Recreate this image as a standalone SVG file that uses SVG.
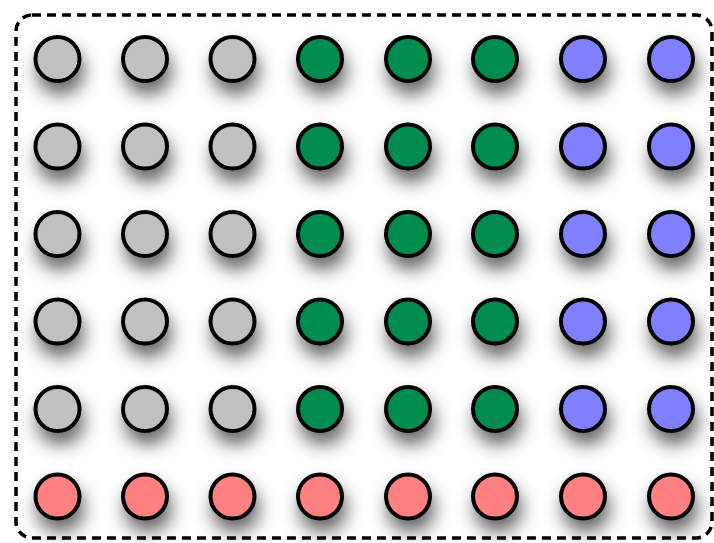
<svg xmlns="http://www.w3.org/2000/svg" width="714" height="543" viewBox="0 0 714 543">
<style>
.n{stroke:#000;stroke-width:4;filter:url(#sh)}
.g{fill:#c0c0c0}.e{fill:#008c50}.b{fill:#8080ff}.r{fill:#ff8080}
</style>
<defs>
<filter id="sh" x="-100%" y="-100%" width="300%" height="320%">
<feDropShadow dx="3" dy="12" stdDeviation="9" flood-color="#000" flood-opacity="0.6"/>
</filter>
</defs>
<rect width="714" height="543" fill="#fff"/>
<rect x="16" y="15" width="696" height="523" rx="16" fill="none" stroke="#000" stroke-width="3.5" stroke-dasharray="9,6"/>
<g id="row1">
<circle id="n1_1" class="n g" cx="57.5" cy="59" r="22"/><circle id="n1_2" class="n g" cx="145" cy="59" r="22"/><circle id="n1_3" class="n g" cx="232.5" cy="59" r="22"/><circle id="n1_4" class="n e" cx="320" cy="59" r="22"/><circle id="n1_5" class="n e" cx="408" cy="59" r="22"/><circle id="n1_6" class="n e" cx="495" cy="59" r="22"/><circle id="n1_7" class="n b" cx="583" cy="59" r="22"/><circle id="n1_8" class="n b" cx="671" cy="59" r="22"/>
</g>
<g id="row2">
<circle id="n2_1" class="n g" cx="57.5" cy="146.5" r="22"/><circle id="n2_2" class="n g" cx="145" cy="146.5" r="22"/><circle id="n2_3" class="n g" cx="232.5" cy="146.5" r="22"/><circle id="n2_4" class="n e" cx="320" cy="146.5" r="22"/><circle id="n2_5" class="n e" cx="408" cy="146.5" r="22"/><circle id="n2_6" class="n e" cx="495" cy="146.5" r="22"/><circle id="n2_7" class="n b" cx="583" cy="146.5" r="22"/><circle id="n2_8" class="n b" cx="671" cy="146.5" r="22"/>
</g>
<g id="row3">
<circle id="n3_1" class="n g" cx="57.5" cy="234" r="22"/><circle id="n3_2" class="n g" cx="145" cy="234" r="22"/><circle id="n3_3" class="n g" cx="232.5" cy="234" r="22"/><circle id="n3_4" class="n e" cx="320" cy="234" r="22"/><circle id="n3_5" class="n e" cx="408" cy="234" r="22"/><circle id="n3_6" class="n e" cx="495" cy="234" r="22"/><circle id="n3_7" class="n b" cx="583" cy="234" r="22"/><circle id="n3_8" class="n b" cx="671" cy="234" r="22"/>
</g>
<g id="row4">
<circle id="n4_1" class="n g" cx="57.5" cy="321.5" r="22"/><circle id="n4_2" class="n g" cx="145" cy="321.5" r="22"/><circle id="n4_3" class="n g" cx="232.5" cy="321.5" r="22"/><circle id="n4_4" class="n e" cx="320" cy="321.5" r="22"/><circle id="n4_5" class="n e" cx="408" cy="321.5" r="22"/><circle id="n4_6" class="n e" cx="495" cy="321.5" r="22"/><circle id="n4_7" class="n b" cx="583" cy="321.5" r="22"/><circle id="n4_8" class="n b" cx="671" cy="321.5" r="22"/>
</g>
<g id="row5">
<circle id="n5_1" class="n g" cx="57.5" cy="409" r="22"/><circle id="n5_2" class="n g" cx="145" cy="409" r="22"/><circle id="n5_3" class="n g" cx="232.5" cy="409" r="22"/><circle id="n5_4" class="n e" cx="320" cy="409" r="22"/><circle id="n5_5" class="n e" cx="408" cy="409" r="22"/><circle id="n5_6" class="n e" cx="495" cy="409" r="22"/><circle id="n5_7" class="n b" cx="583" cy="409" r="22"/><circle id="n5_8" class="n b" cx="671" cy="409" r="22"/>
</g>
<g id="row6">
<circle id="n6_1" class="n r" cx="57.5" cy="496.5" r="22"/><circle id="n6_2" class="n r" cx="145" cy="496.5" r="22"/><circle id="n6_3" class="n r" cx="232.5" cy="496.5" r="22"/><circle id="n6_4" class="n r" cx="320" cy="496.5" r="22"/><circle id="n6_5" class="n r" cx="408" cy="496.5" r="22"/><circle id="n6_6" class="n r" cx="495" cy="496.5" r="22"/><circle id="n6_7" class="n r" cx="583" cy="496.5" r="22"/><circle id="n6_8" class="n r" cx="671" cy="496.5" r="22"/>
</g>
<g id="connectors"></g>
</svg>
